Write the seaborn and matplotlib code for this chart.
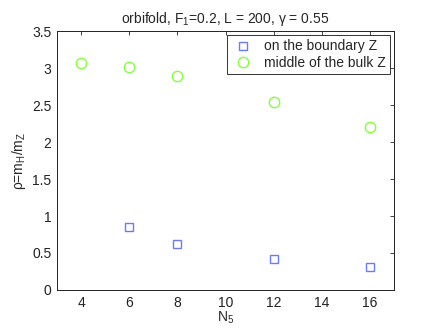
import numpy as np
import pandas as pd
import matplotlib
matplotlib.use("Agg")
import matplotlib.pyplot as plt
import seaborn as sns

n5_boundary = [6, 8, 12, 16]
rho_boundary = [0.852, 0.626, 0.415, 0.312]

n5_bulk = [4, 6, 8, 12, 16]
rho_bulk = [3.075, 3.02, 2.897, 2.538, 2.20]

x_ticks = [4, 6, 8, 10, 12, 14, 16]
y_ticks = [0, 0.5, 1, 1.5, 2, 2.5, 3, 3.5]
y_tick_labels = ['0', '0.5', '1', '1.5', '2', '2.5', '3', '3.5']

sns.set_style("white")
plt.rcParams['font.family'] = ['Liberation Sans', 'DejaVu Sans']
plt.rcParams['mathtext.fontset'] = 'custom'
plt.rcParams['mathtext.rm'] = 'Liberation Sans'
plt.rcParams['mathtext.it'] = 'Liberation Sans'

blue = '#6a7bff'
green = '#86ff3c'

fig = plt.figure(figsize=(4.36, 3.28), dpi=100)
ax = fig.add_axes([0.131, 0.116, 0.773, 0.789])

df_b = pd.DataFrame({'N5': n5_boundary, 'rho': rho_boundary})
df_m = pd.DataFrame({'N5': n5_bulk, 'rho': rho_bulk})

sns.lineplot(data=df_b, x='N5', y='rho', ax=ax, linestyle='none', marker='s',
             markersize=6, markerfacecolor='none', markeredgecolor=blue,
             markeredgewidth=1.0, color=blue, label='on the boundary Z')
sns.lineplot(data=df_m, x='N5', y='rho', ax=ax, linestyle='none', marker='o',
             markersize=7.5, markerfacecolor='none', markeredgecolor=green,
             markeredgewidth=1.0, color=green, label='middle of the bulk Z')

ax.set_xlim(3, 17)
ax.set_ylim(0, 3.5)
ax.set_xticks(x_ticks)
ax.set_yticks(y_ticks)
ax.set_yticklabels(y_tick_labels)
ax.tick_params(direction='in', top=True, right=True, length=3, width=0.6,
               labelsize=10, colors='#222222', pad=4)
for s in ax.spines.values():
    s.set_linewidth(0.7)
    s.set_color('#222222')

ax.set_xlabel('N$_5$', fontsize=10, labelpad=0)
ax.set_ylabel(r'$\rho$=m$_H$/m$_Z$', fontsize=10, labelpad=3)
ax.set_title(r'orbifold, F$_1$=0.2, L = 200, $\gamma$ = 0.55', fontsize=10, pad=6)

leg = ax.legend(loc='upper right', fontsize=10, frameon=True, fancybox=False,
                edgecolor='black', borderpad=0.3, handletextpad=0.6,
                borderaxespad=0.3, labelspacing=0.15, handlelength=1.8)
leg.get_frame().set_linewidth(0.7)

fig.savefig('out.png', dpi=100)
